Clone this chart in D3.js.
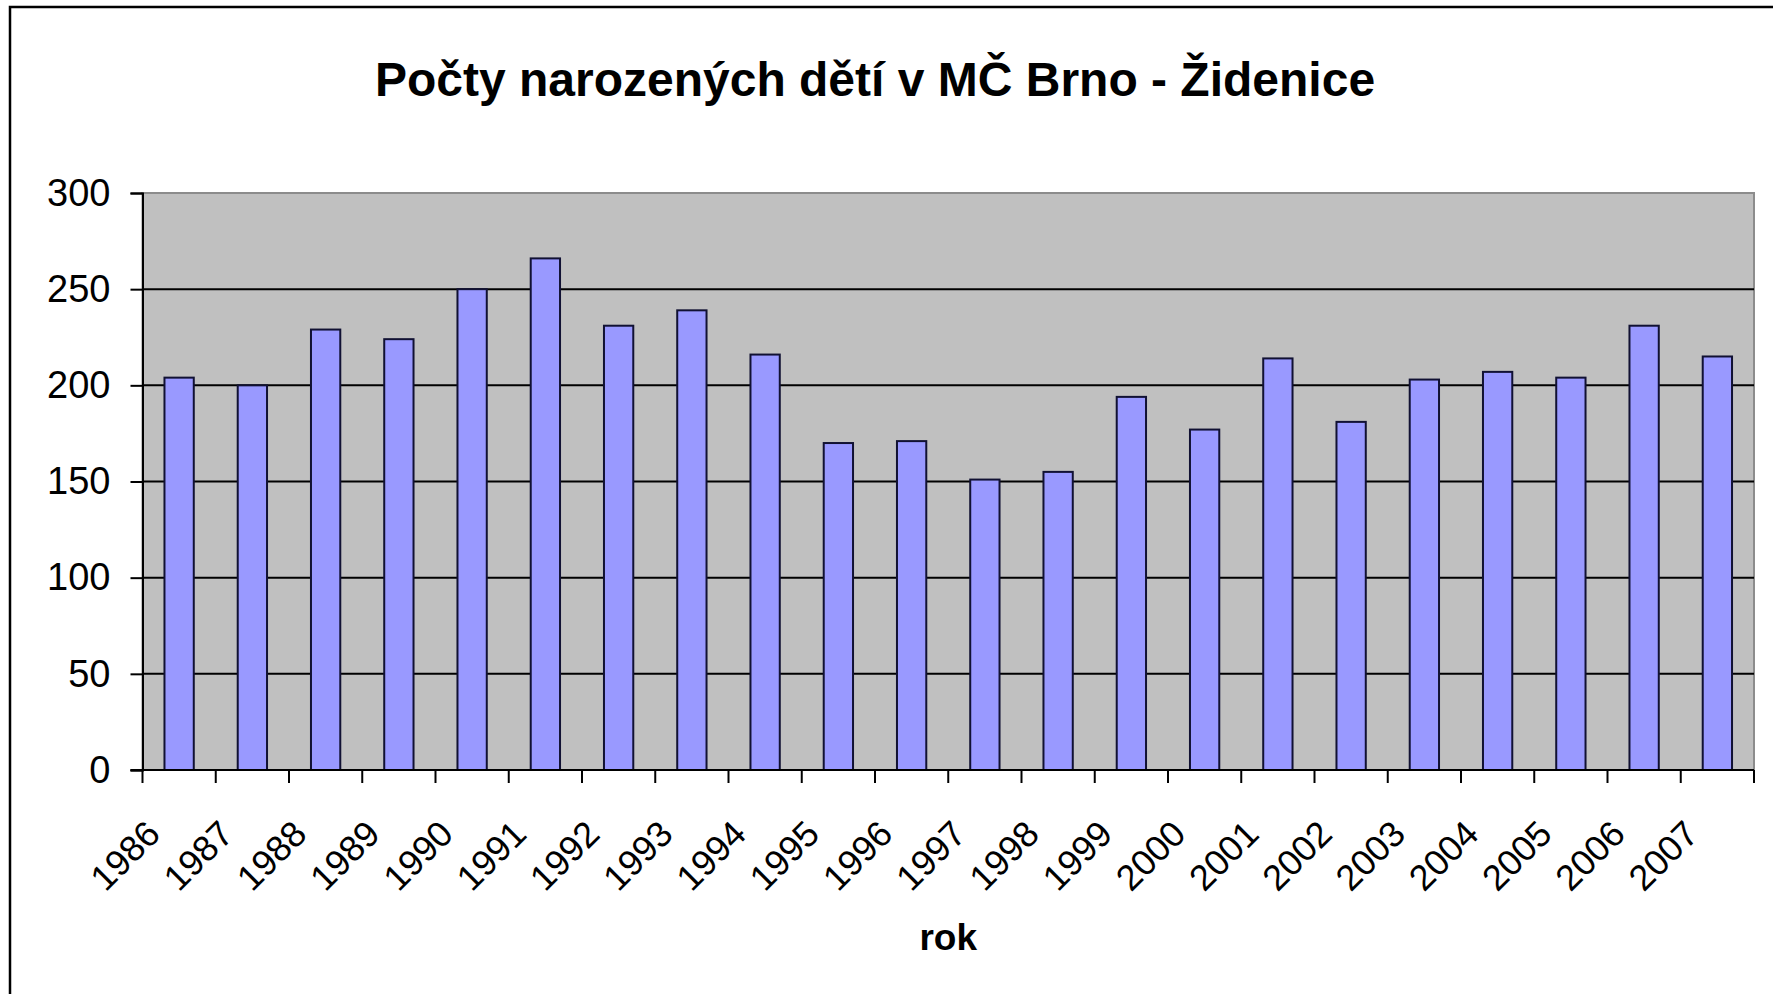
<!DOCTYPE html>
<html>
<head>
<meta charset="utf-8">
<script src="https://cdn.jsdelivr.net/npm/d3@7"></script>
<style>
  html, body { margin: 0; padding: 0; background: #fff; }
  svg { display: block; font-family: "Liberation Sans", Arial, sans-serif; }
</style>
</head>
<body>
<script>
const years = ["1986","1987","1988","1989","1990","1991","1992","1993","1994","1995","1996","1997","1998","1999","2000","2001","2002","2003","2004","2005","2006","2007"];
const births = [204, 200, 229, 224, 250, 266, 231, 239, 216, 170, 171, 151, 155, 194, 177, 214, 181, 203, 207, 204, 231, 215];
const yTicks = [0, 50, 100, 150, 200, 250, 300];
const titleText = "Počty narozených dětí v MČ Brno - Židenice";
const xTitle = "rok";

const W = 1773, H = 994;
const plot = { left: 142.5, right: 1754, top: 193, bottom: 770 };

const svg = d3.select("body").append("svg").attr("width", W).attr("height", H);

// outer chart border (extends beyond the visible area on right/bottom)
svg.append("rect").attr("x", 10).attr("y", 7).attr("width", 1800).attr("height", 1100)
  .attr("fill", "#fff").attr("stroke", "#000").attr("stroke-width", 2.5);

const x = d3.scaleBand().domain(years).range([plot.left, plot.right]).paddingInner(0.6).paddingOuter(0.3);
const xCat = d3.scaleBand().domain(years).range([plot.left, plot.right]).padding(0);
const y = d3.scaleLinear().domain([0, 300]).range([plot.bottom, plot.top]);

// plot area background
svg.append("rect").attr("x", plot.left).attr("y", plot.top)
  .attr("width", plot.right - plot.left).attr("height", plot.bottom - plot.top)
  .attr("fill", "#c0c0c0").attr("stroke", "#8c8c8c").attr("stroke-width", 2);

// gridlines
svg.append("g").selectAll("line").data(yTicks.filter(d => d > 0 && d < 300)).join("line")
  .attr("x1", plot.left).attr("x2", plot.right)
  .attr("y1", d => y(d)).attr("y2", d => y(d))
  .attr("stroke", "#000").attr("stroke-width", 2);

// bars
svg.append("g").selectAll("rect").data(years).join("rect")
  .attr("x", d => x(d)).attr("width", x.bandwidth())
  .attr("y", (d, i) => y(births[i])).attr("height", (d, i) => y(0) - y(births[i]))
  .attr("fill", "#9999ff").attr("stroke", "#111133").attr("stroke-width", 2);

// y axis
const yAxis = d3.axisLeft(y).tickValues(yTicks).tickSize(12).tickPadding(20).tickFormat(d3.format("d"));
const gy = svg.append("g").attr("transform", `translate(${plot.left},0)`).call(yAxis);
gy.select(".domain").attr("stroke", "#000").attr("stroke-width", 2);
gy.selectAll(".tick line").attr("stroke", "#000").attr("stroke-width", 2);
gy.selectAll(".tick text").attr("font-size", 38).attr("fill", "#000")
  .attr("font-family", "'Liberation Sans', Arial, sans-serif");

// x axis line
svg.append("line").attr("x1", plot.left - 12).attr("x2", plot.right)
  .attr("y1", plot.bottom).attr("y2", plot.bottom)
  .attr("stroke", "#000").attr("stroke-width", 2);

// x ticks at category boundaries
const bounds = years.map(d => xCat(d)).concat([plot.right]);
svg.append("g").selectAll("line").data(bounds).join("line")
  .attr("x1", d => d).attr("x2", d => d)
  .attr("y1", plot.bottom).attr("y2", plot.bottom + 13)
  .attr("stroke", "#000").attr("stroke-width", 2);

// x labels rotated
svg.append("g").selectAll("text").data(years).join("text")
  .attr("transform", d => `translate(${xCat(d) + xCat.bandwidth() / 2 - 17},${plot.bottom + 66}) rotate(-45)`)
  .attr("text-anchor", "end")
  .attr("font-size", 36).attr("fill", "#000")
  .text(d => d);

// x axis title
svg.append("text").attr("x", (plot.left + plot.right) / 2).attr("y", 950)
  .attr("text-anchor", "middle").attr("font-size", 37).attr("font-weight", "bold")
  .text(xTitle);

// chart title
svg.append("text").attr("x", 875).attr("y", 96)
  .attr("text-anchor", "middle").attr("font-size", 48).attr("font-weight", "bold")
  .text(titleText);
</script>
</body>
</html>
